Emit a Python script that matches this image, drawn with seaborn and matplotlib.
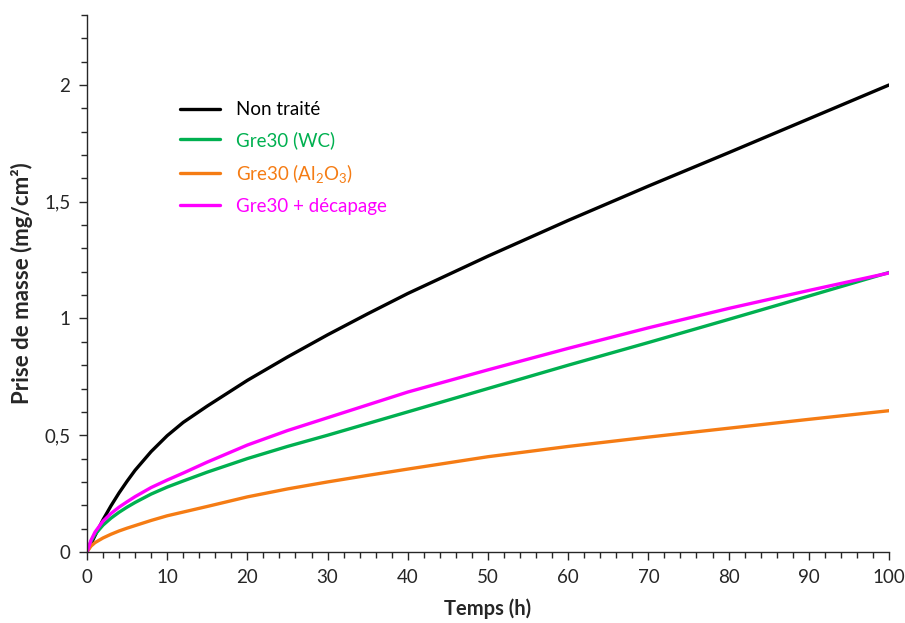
import numpy as np
import pandas as pd
import matplotlib
matplotlib.use('Agg')
import matplotlib.pyplot as plt
from matplotlib.ticker import MultipleLocator, FuncFormatter
import seaborn as sns


# values
temps = [0, 0.5, 1, 2, 3, 4, 5, 6, 8, 10, 12, 15, 20, 25, 30, 35, 40, 50, 60, 70, 80, 90, 100]
non_traite = [0, 0.035, 0.07, 0.138, 0.198, 0.253, 0.303, 0.35, 0.43, 0.498, 0.555, 0.625, 0.735, 0.835, 0.93, 1.02, 1.107, 1.267, 1.42, 1.567, 1.71, 1.855, 2.0]
gre30_wc = [0, 0.045, 0.075, 0.115, 0.145, 0.17, 0.192, 0.212, 0.248, 0.278, 0.304, 0.342, 0.40, 0.452, 0.50, 0.55, 0.60, 0.70, 0.80, 0.897, 0.996, 1.096, 1.197]
gre30_al2o3 = [0, 0.025, 0.04, 0.06, 0.076, 0.09, 0.102, 0.113, 0.135, 0.155, 0.171, 0.195, 0.236, 0.27, 0.30, 0.328, 0.355, 0.408, 0.452, 0.492, 0.53, 0.568, 0.605]
gre30_decap = [0, 0.05, 0.085, 0.132, 0.165, 0.192, 0.215, 0.237, 0.276, 0.308, 0.338, 0.385, 0.458, 0.52, 0.575, 0.63, 0.685, 0.78, 0.872, 0.96, 1.043, 1.12, 1.195]

labels = ['Non traité', 'Gre30 (WC)', 'Gre30 (Al$_2$O$_3$)', 'Gre30 + décapage']
colors = ['#000000', '#00B050', '#F57C14', '#FF00FF']

sns.set_theme(style='ticks')
plt.rcParams['font.family'] = ['Lato', 'DejaVu Sans']
plt.rcParams['mathtext.default'] = 'regular'

fig = plt.figure(figsize=(9.05, 6.23), dpi=100)
ax = fig.add_axes([0.0961, 0.114, 0.8862, 0.862])

series = [non_traite, gre30_wc, gre30_al2o3, gre30_decap]
for vals, lab, col in zip(series, labels, colors):
    df = pd.DataFrame({'t': temps, 'm': vals})
    sns.lineplot(data=df, x='t', y='m', color=col, linewidth=2.4, label=lab, ax=ax)

ax.set_xlim(0, 100)
ax.set_ylim(0, 2.3)
ax.xaxis.set_major_locator(MultipleLocator(10))
ax.xaxis.set_minor_locator(MultipleLocator(2))
ax.yaxis.set_major_locator(MultipleLocator(0.5))
ax.yaxis.set_minor_locator(MultipleLocator(0.1))
ax.yaxis.set_major_formatter(FuncFormatter(lambda v, p: ('%g' % v).replace('.', ',')))

for side in ['top', 'right']:
    ax.spines[side].set_visible(False)
for side in ['left', 'bottom']:
    ax.spines[side].set_color('#262626')
    ax.spines[side].set_linewidth(1.0)
ax.tick_params(which='major', direction='out', length=6, width=1.0, color='#262626', labelsize=13.5, pad=6)
ax.tick_params(which='minor', direction='out', length=4, width=1.0, color='#262626')

ax.set_xlabel('Temps (h)', fontsize=14.5, fontweight='bold', labelpad=9)
ax.set_ylabel('Prise de masse (mg/cm²)', fontsize=16, fontweight='bold', labelpad=8)

leg = ax.legend(loc='upper left', bbox_to_anchor=(0.1066, 0.853), frameon=False,
                fontsize=13.5, handlelength=2.13, handletextpad=0.85, labelspacing=0.68,
                borderaxespad=0)
for txt, c in zip(leg.get_texts(), colors):
    txt.set_color(c)

fig.savefig('out.png', dpi=100)
